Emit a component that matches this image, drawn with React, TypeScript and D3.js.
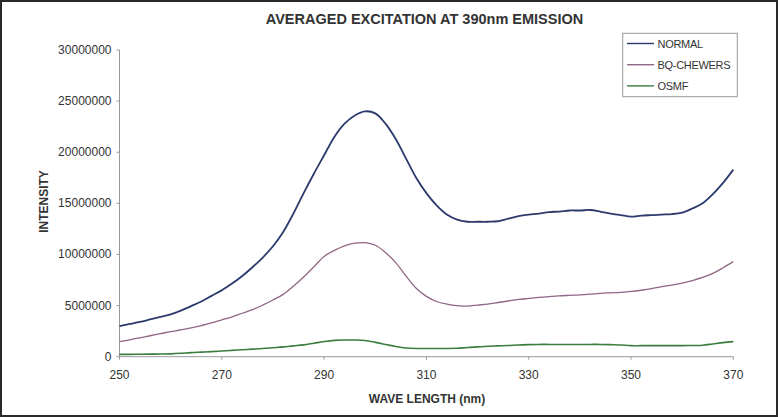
import React from "react";
import * as d3 from "d3";

const wavelengths: number[] = d3.range(250, 371, 2);

const normal: number[] = [
  3.0, 3.2, 3.4, 3.65, 3.9, 4.15, 4.5, 4.95, 5.4, 5.95,
  6.5, 7.15, 7.9, 8.75, 9.7, 10.8, 12.2, 14.0, 16.0, 17.9,
  19.7, 21.5, 22.8, 23.6, 24.0, 23.8, 22.8, 21.3, 19.4, 17.5,
  16.0, 14.8, 13.9, 13.4, 13.2, 13.2, 13.2, 13.25, 13.5, 13.75,
  13.9, 14.0, 14.15, 14.2, 14.3, 14.3, 14.35, 14.2, 14.0, 13.85,
  13.7, 13.8, 13.85, 13.9, 13.95, 14.1, 14.5, 15.0, 15.9, 17.0,
  18.3,
];

const bqChewers: number[] = [
  1.47, 1.65, 1.85, 2.05, 2.25, 2.45, 2.62, 2.82, 3.05, 3.3,
  3.6, 3.9, 4.25, 4.6, 5.05, 5.55, 6.1, 6.9, 7.8, 8.8,
  9.8, 10.4, 10.85, 11.1, 11.15, 10.9, 10.2, 9.2, 7.9, 6.7,
  5.9, 5.4, 5.15, 5.0, 4.95, 5.05, 5.15, 5.3, 5.45, 5.6,
  5.7, 5.8, 5.88, 5.95, 6.0, 6.05, 6.12, 6.2, 6.25, 6.3,
  6.38, 6.5, 6.65, 6.85, 7.0, 7.2, 7.45, 7.75, 8.15, 8.7,
  9.3,
];

const osmf: number[] = [
  0.23, 0.23, 0.24, 0.25, 0.26, 0.28, 0.33, 0.4, 0.45, 0.5,
  0.56, 0.62, 0.68, 0.74, 0.8, 0.88, 0.96, 1.06, 1.16, 1.32,
  1.48, 1.6, 1.63, 1.63, 1.58, 1.4, 1.2, 1.0, 0.85, 0.8,
  0.8, 0.8, 0.8, 0.82, 0.9, 0.96, 1.02, 1.06, 1.1, 1.15,
  1.18, 1.2, 1.2, 1.2, 1.2, 1.2, 1.2, 1.2, 1.18, 1.15,
  1.08, 1.08, 1.08, 1.08, 1.08, 1.08, 1.1, 1.12, 1.25, 1.38,
  1.47,
];

const seriesNames: string[] = ["NORMAL", "BQ-CHEWERS", "OSMF"];
const seriesColors: string[] = ["#2c3a6c", "#8f6684", "#3b7d3d"];
const seriesWidths: number[] = [1.8, 1.3, 1.6];

const xTicks: number[] = [250, 270, 290, 310, 330, 350, 370];
const yTicks: number[] = [0, 5000000, 10000000, 15000000, 20000000, 25000000, 30000000];

const W = 778;
const H = 417;
const FONT = "Arial, 'Liberation Sans', Helvetica, sans-serif";

export default function App() {
  const left = 119.5;
  const right = 733.3;
  const top = 50;
  const bottom = 356.7;

  const x = d3.scaleLinear().domain([250, 370]).range([left, right]);
  const y = d3.scaleLinear().domain([0, 30000000]).range([bottom, top]);

  const allSeries = [normal, bqChewers, osmf];
  const line = d3
    .line<[number, number]>()
    .x((d) => x(d[0]))
    .y((d) => y(d[1] * 1e6))
    .curve(d3.curveCatmullRom.alpha(0.5));

  const legendX = 622.7;
  const legendY = 33.3;
  const legendW = 114.6;
  const legendH = 63.4;

  return (
    <svg
      width={W}
      height={H}
      style={{ position: "absolute", left: 0, top: 0, background: "#fff" }}
      fontFamily={FONT}
    >
      <rect x={0} y={0} width={W} height={H} fill="#fff" />
      <rect x={1} y={1} width={W - 2} height={H - 2} fill="none" stroke="#2a2a2a" strokeWidth={2} />

      <text x={424.5} y={23.5} textAnchor="middle" fontSize={14.5} fontWeight="bold" fill="#333">
        AVERAGED EXCITATION AT 390nm EMISSION
      </text>

      {/* y axis */}
      <line x1={left} x2={left} y1={top} y2={bottom} stroke="#999" strokeWidth={1} />
      {yTicks.map((t) => (
        <g key={t}>
          <line x1={left - 3} x2={left} y1={y(t)} y2={y(t)} stroke="#999" />
          <text x={111.5} y={y(t) + 4} textAnchor="end" fontSize={12} fill="#333">
            {String(t)}
          </text>
        </g>
      ))}

      {/* x axis */}
      <line x1={left} x2={right} y1={bottom} y2={bottom} stroke="#999" strokeWidth={1} />
      {xTicks.map((t) => (
        <g key={t}>
          <line x1={x(t)} x2={x(t)} y1={bottom} y2={bottom + 3} stroke="#999" />
          <text x={x(t)} y={379} textAnchor="middle" fontSize={12} fill="#333">
            {t}
          </text>
        </g>
      ))}

      <text
        transform={`translate(47.5,201.5) rotate(-90)`}
        textAnchor="middle"
        fontSize={12}
        fontWeight="bold"
        fill="#333"
      >
        INTENSITY
      </text>
      <text x={427} y={402.5} textAnchor="middle" fontSize={12} fontWeight="bold" fill="#333">
        WAVE LENGTH (nm)
      </text>

      {allSeries.map((s, i) => (
        <path
          key={seriesNames[i]}
          d={line(s.map((v, j) => [wavelengths[j], v] as [number, number])) || ""}
          fill="none"
          stroke={seriesColors[i]}
          strokeWidth={seriesWidths[i]}
          strokeLinejoin="round"
        />
      ))}

      {/* legend */}
      <rect x={legendX} y={legendY} width={legendW} height={legendH} fill="#fff" stroke="#999" strokeWidth={1} />
      {seriesNames.map((n, i) => (
        <g key={n}>
          <line
            x1={627}
            x2={654}
            y1={43.5 + i * 21.2}
            y2={43.5 + i * 21.2}
            stroke={seriesColors[i]}
            strokeWidth={1.4}
          />
          <text x={657.5} y={47.5 + i * 21.2} fontSize={11} fill="#333" letterSpacing={-0.3}>
            {n}
          </text>
        </g>
      ))}
    </svg>
  );
}
